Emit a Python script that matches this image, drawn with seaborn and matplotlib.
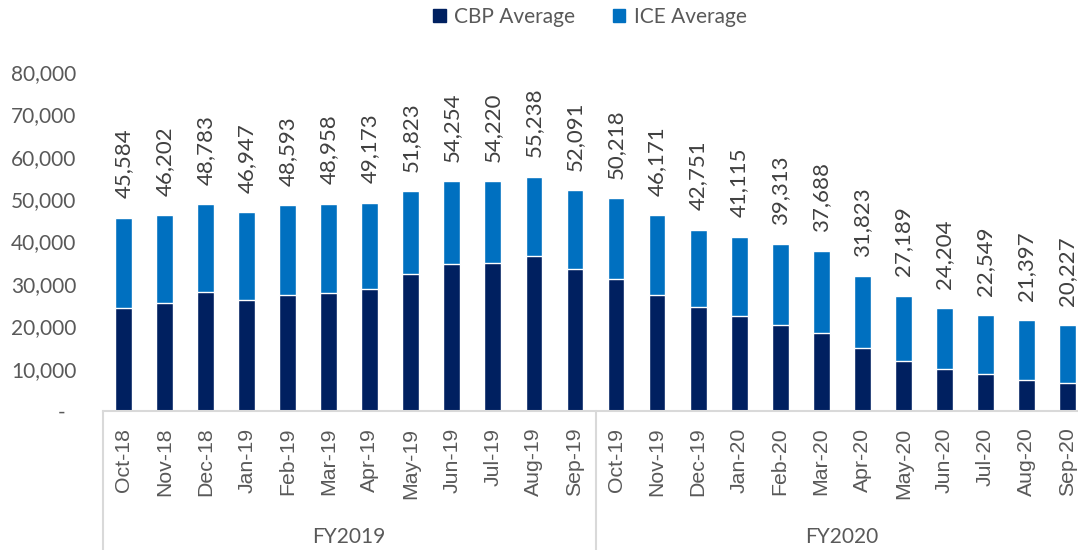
import numpy as np
import pandas as pd
import matplotlib
matplotlib.use("Agg")
import matplotlib.pyplot as plt
import matplotlib.transforms as mtransforms
from matplotlib.patches import Patch
import seaborn as sns

# Monthly average detention population, FY2019-FY2020
months = ['Oct-18', 'Nov-18', 'Dec-18', 'Jan-19', 'Feb-19', 'Mar-19', 'Apr-19', 'May-19',
          'Jun-19', 'Jul-19', 'Aug-19', 'Sep-19', 'Oct-19', 'Nov-19', 'Dec-19', 'Jan-20',
          'Feb-20', 'Mar-20', 'Apr-20', 'May-20', 'Jun-20', 'Jul-20', 'Aug-20', 'Sep-20']
fiscal_years = ['FY2019', 'FY2020']
total = [45584, 46202, 48783, 46947, 48593, 48958, 49173, 51823, 54254, 54220, 55238, 52091,
         50218, 46171, 42751, 41115, 39313, 37688, 31823, 27189, 24204, 22549, 21397, 20227]
# CBP part (estimates), ICE is the rest
cbp = [24200, 25400, 28100, 26300, 27400, 27800, 28700, 32300, 34600, 34900, 36500, 33500,
       31100, 27400, 24600, 22400, 20300, 18500, 14800, 11800, 10000, 8800, 7300, 6700]

df = pd.DataFrame({'month': months, 'total': total, 'cbp': cbp})
df['ice'] = df['total'] - df['cbp']

CBP_COLOR = '#002060'
ICE_COLOR = '#0070C0'
TEXT_GRAY = '#595959'
LINE_GRAY = '#D9D9D9'

sns.set_style('white')
plt.rcParams['font.family'] = ['Lato', 'DejaVu Sans']

fig = plt.figure(figsize=(10.78, 5.5), dpi=100)
ax = fig.add_axes([103 / 1078, 139 / 550, 985 / 1078, 339 / 550])

# stacked bars: full total in ICE colour, CBP drawn over the bottom part
sns.barplot(data=df, x='month', y='total', color=ICE_COLOR, saturation=1,
            width=0.41, errorbar=None, ax=ax)
sns.barplot(data=df, x='month', y='cbp', color=CBP_COLOR, saturation=1,
            width=0.41, errorbar=None, ax=ax)

ax.set_xlim(-0.5, len(months) - 0.5)
ax.set_ylim(0, 80000)
yt = np.arange(0, 80001, 10000)
ax.set_yticks(yt)
ax.set_yticklabels(['-  '] + [f'{v:,}' for v in yt[1:]], fontsize=15, color=TEXT_GRAY)
ax.tick_params(axis='y', length=0, pad=19)
ax.tick_params(axis='x', length=0, pad=12)
for lab in ax.get_xticklabels():
    lab.set_rotation(90)
    lab.set_fontfamily('Liberation Sans')
    lab.set_fontsize(15.3)
    lab.set_color(TEXT_GRAY)
    lab.set_va('top')
ax.set_xlabel('')
ax.set_ylabel('')

for s in ['top', 'right', 'left']:
    ax.spines[s].set_visible(False)
ax.spines['bottom'].set_color(LINE_GRAY)
ax.spines['bottom'].set_linewidth(1.5)

# total labels above bars
for i, v in enumerate(df['total']):
    ax.annotate(f'{v:,}', xy=(i, v), xytext=(0, 14), textcoords='offset points',
                rotation=90, ha='center', va='bottom', fontsize=16, color='#404040')

# fiscal year grouping below the month labels
trans = mtransforms.blended_transform_factory(ax.transData, ax.transAxes)
for xpos in [-0.5, 11.5, 23.5]:
    ax.plot([xpos, xpos], [0, -0.45], transform=trans, color=LINE_GRAY,
            lw=1.5, clip_on=False)
for k, fy in enumerate(fiscal_years):
    ax.text(k * 12 + 5.5, -0.372, fy, transform=trans, ha='center', va='center',
            fontsize=15, color=TEXT_GRAY)

handles = [Patch(color=CBP_COLOR, label='CBP Average'),
           Patch(color=ICE_COLOR, label='ICE Average')]
fig.legend(handles=handles, loc='center', bbox_to_anchor=(590 / 1078, 1 - 17 / 550),
           ncol=2, frameon=False, fontsize=15, handlelength=0.6, handleheight=0.6,
           handletextpad=0.4, columnspacing=1.8, labelcolor=TEXT_GRAY)

fig.savefig('out.png', dpi=100)
